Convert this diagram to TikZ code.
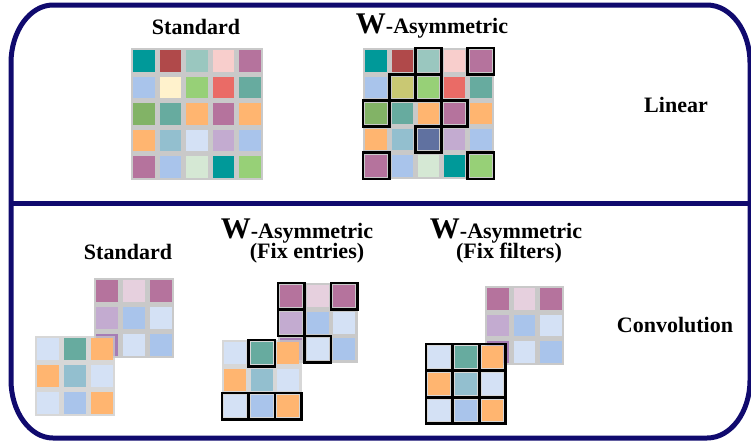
\documentclass[tikz,border=0pt]{standalone}
\usepackage{fontspec}
\setmainfont{Liberation Serif}
\definecolor{navy}{HTML}{100A6E}
\definecolor{gridgray}{HTML}{C9C9C9}
\definecolor{cteal}{HTML}{009999}
\definecolor{cdred}{HTML}{B0494A}
\definecolor{clteal}{HTML}{9AC7BF}
\definecolor{cpink}{HTML}{F8CECC}
\definecolor{cmauve}{HTML}{B5739D}
\definecolor{clblue}{HTML}{A9C4EB}
\definecolor{ccream}{HTML}{FFF2CC}
\definecolor{clgreen}{HTML}{97D077}
\definecolor{csalmon}{HTML}{EA6B66}
\definecolor{ctgreen}{HTML}{67AB9F}
\definecolor{cgreen}{HTML}{82B366}
\definecolor{corange}{HTML}{FFB570}
\definecolor{cbgrey}{HTML}{93BFCF}
\definecolor{cpblue}{HTML}{D4E1F5}
\definecolor{clav}{HTML}{C3ABD0}
\definecolor{cpgreen}{HTML}{D5E8D4}
\definecolor{colive}{HTML}{C9C873}
\definecolor{cdblue}{HTML}{6071A0}
\definecolor{cppink}{HTML}{E6D0DE}
\definecolor{cpurple}{HTML}{A67DB5}
\tikzset{
  frame/.style={draw=navy,line width=5pt},
  title/.style={font=\bfseries\fontsize{22}{24}\selectfont,inner sep=0pt},
  boxed/.style={draw=black,line width=2.8pt},
}
\newcommand{\bigW}{{\fontsize{30}{30}\selectfont W}}
% \drawgrid{x0}{y0}{pitch}{n}{rows}{boxes}{bgopacity}
\newcommand{\drawgrid}[7]{%
  \begin{scope}[shift={(#1,#2)}]
    \fill[gridgray,fill opacity=#7] (0,0) rectangle (#4*#3,#4*#3);
    \foreach \r/\row in {#5} {
      \foreach \col [count=\c from 0] in \row {
        \fill[\col] (\c*#3+2.4,\r*#3+2.4) rectangle ++(#3-4.8,#3-4.8);
      }
    }
    \foreach \bc/\br in {#6} {
      \draw[boxed] (\bc*#3,\br*#3) rectangle ++(#3,#3);
    }
  \end{scope}}
\begin{document}
\begin{tikzpicture}[x=1pt,y=-1pt]
\useasboundingbox (0,0) rectangle (751,442);
% frame
\draw[frame] (11,63) -- (11,380) .. controls (11,412) and (30,438) .. (53,438)
  -- (707,438) .. controls (731,438) and (750,412) .. (750,380)
  -- (750,63) .. controls (750,31) and (731,5) .. (707,5)
  -- (53,5) .. controls (30,5) and (11,31) .. (11,63) -- cycle;
\coordinate (dl) at (11,203);
\coordinate (dr) at (750,203);
\draw[frame] (dl) -- (dr);
% titles
\node[title] (tstd) at (196,27) {Standard};
\node[title] (twa) at (432,26) {\bigW-Asymmetric};
\node[title] (tlin) at (676,105) {Linear};
\node[title] (cstd) at (128,252) {Standard};
\node[title] (cwa1) at (297,231) {\bigW-Asymmetric};
\node[title] (cfe) at (307,253) {(Fix entries)};
\node[title] (cwa2) at (506,231) {\bigW-Asymmetric};
\node[title] (cff) at (509,253) {(Fix filters)};
\node[title] (tconv) at (675,325) {Convolution};
% linear grids
\drawgrid{131}{48}{26.4}{5}{
  0/{cteal,cdred,clteal,cpink,cmauve},
  1/{clblue,ccream,clgreen,csalmon,ctgreen},
  2/{cgreen,ctgreen,corange,cmauve,corange},
  3/{corange,cbgrey,cpblue,clav,clblue},
  4/{cmauve,clblue,cpgreen,cteal,clgreen}}{}{1}
\drawgrid{363}{48}{26.2}{5}{
  0/{cteal,cdred,clteal,cpink,cmauve},
  1/{clblue,colive,clgreen,csalmon,ctgreen},
  2/{cgreen,ctgreen,corange,cmauve,corange},
  3/{corange,cbgrey,cdblue,clav,clblue},
  4/{cmauve,clblue,cpgreen,cteal,clgreen}}{2/0,4/0,1/1,2/1,0/2,3/2,2/3,0/4,4/4}{1}
% convolution: standard
\drawgrid{94}{278}{26.8}{3}{
  0/{cmauve,cppink,cmauve},
  1/{clav,clblue,cpblue},
  2/{cpurple,cpblue,clblue}}{}{1}
\drawgrid{35}{336}{26.8}{3}{
  0/{cpblue,ctgreen,corange},
  1/{corange,cbgrey,cpblue},
  2/{cpblue,clblue,corange}}{}{0.75}
% convolution: fix entries
\drawgrid{278}{283}{26.5}{3}{
  0/{cmauve,cppink,cmauve},
  1/{clav,clblue,cpblue},
  2/{cpurple,cpblue,clblue}}{0/0,2/0,0/1,1/2}{1}
\drawgrid{222}{340}{26.5}{3}{
  0/{cpblue,ctgreen,corange},
  1/{corange,cbgrey,cpblue},
  2/{cpblue,clblue,corange}}{1/0,0/2,1/2,2/2}{0.75}
% convolution: fix filters
\drawgrid{485}{286}{26.4}{3}{
  0/{cmauve,cppink,cmauve},
  1/{clav,clblue,cpblue},
  2/{cpurple,cpblue,clblue}}{}{1}
\drawgrid{426}{344}{26.6}{3}{
  0/{cpblue,ctgreen,corange},
  1/{corange,cbgrey,cpblue},
  2/{cpblue,clblue,corange}}{0/0,1/0,2/0,0/1,1/1,2/1,0/2,1/2,2/2}{0.75}
\end{tikzpicture}
\end{document}
